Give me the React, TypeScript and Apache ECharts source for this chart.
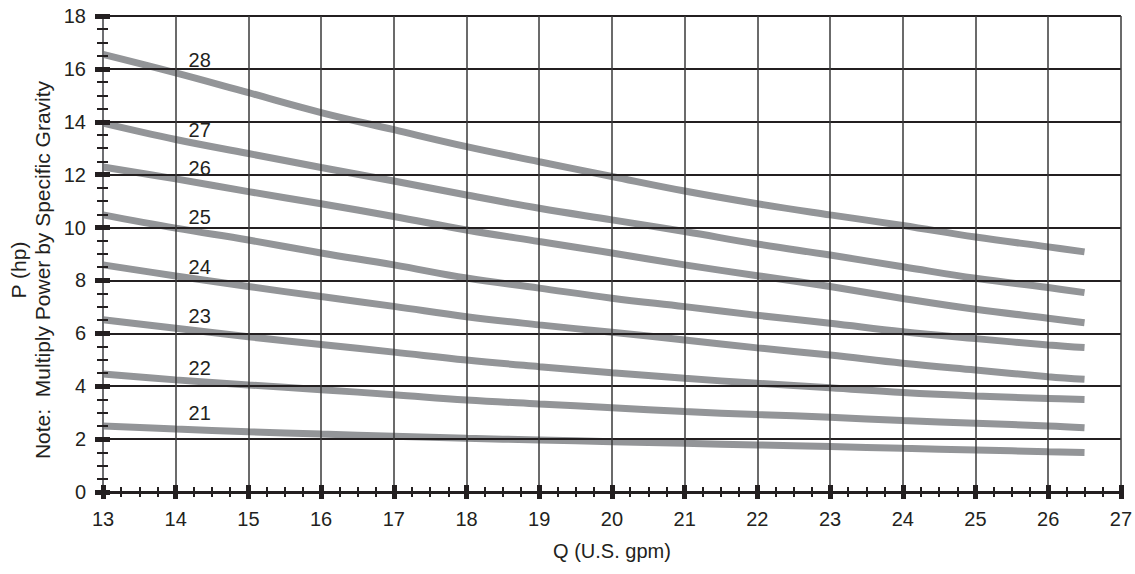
import React, { useEffect, useRef } from "react";
import * as echarts from "echarts";

const Q = [13, 14, 15, 16, 17, 18, 19, 20, 21, 22, 23, 24, 25, 26, 26.5];
const P28 = [16.55, 15.85, 15.1, 14.35, 13.7, 13.06, 12.49, 11.93, 11.38, 10.9, 10.48, 10.08, 9.64, 9.27, 9.08];
const P27 = [13.95, 13.33, 12.8, 12.27, 11.76, 11.23, 10.73, 10.29, 9.85, 9.38, 8.96, 8.52, 8.08, 7.73, 7.54];
const P26 = [12.29, 11.84, 11.36, 10.9, 10.42, 9.91, 9.47, 9.04, 8.59, 8.18, 7.77, 7.32, 6.91, 6.57, 6.4];
const P25 = [10.48, 9.98, 9.53, 9.04, 8.59, 8.09, 7.71, 7.33, 7.01, 6.68, 6.38, 6.06, 5.8, 5.56, 5.46];
const P24 = [8.59, 8.17, 7.77, 7.39, 7.02, 6.63, 6.32, 6.04, 5.75, 5.45, 5.18, 4.87, 4.61, 4.36, 4.26];
const P23 = [6.51, 6.19, 5.87, 5.58, 5.29, 4.99, 4.74, 4.51, 4.3, 4.11, 3.94, 3.76, 3.63, 3.54, 3.5];
const P22 = [4.46, 4.24, 4.05, 3.87, 3.68, 3.48, 3.33, 3.19, 3.04, 2.93, 2.83, 2.7, 2.6, 2.5, 2.43];
const P21 = [2.5, 2.38, 2.28, 2.19, 2.11, 2.03, 1.97, 1.9, 1.84, 1.78, 1.72, 1.65, 1.59, 1.52, 1.49];

const CURVE_NAMES = ["21", "22", "23", "24", "25", "26", "27", "28"];
const CURVES = [P21, P22, P23, P24, P25, P26, P27, P28];
const LABEL_Q = 14.33;
const LABEL_P = [2.98, 4.68, 6.67, 8.52, 10.41, 12.25, 13.68, 16.34];

const X_MIN = 13;
const X_MAX = 27;
const Y_MIN = 0;
const Y_MAX = 18;

const X_NAME = "Q (U.S. gpm)";
const Y_NAME_1 = "P (hp)";
const Y_NAME_2 = "Note:  Multiply Power by Specific Gravity";

const FONT = "'Liberation Sans', Arial, Helvetica, sans-serif";
const INK = "#231f20";

export default function App() {
  const ref = useRef<HTMLDivElement>(null);
  useEffect(() => {
    if (!ref.current) return;
    const chart = echarts.init(ref.current, undefined, { renderer: "svg" });

    const lineSeries = CURVES.map((vals, i) => ({
      name: CURVE_NAMES[i],
      type: "line",
      xAxisIndex: 0,
      yAxisIndex: 0,
      smooth: 0.4,
      symbol: "none",
      silent: true,
      data: Q.map((q, k) => [q, vals[k]]),
      lineStyle: { color: "#939598", width: 7, cap: "butt" },
      z: 3,
    }));

    const labelSeries = {
      type: "scatter",
      xAxisIndex: 0,
      yAxisIndex: 0,
      symbolSize: 0,
      silent: true,
      itemStyle: { opacity: 1 },
      emphasis: { disabled: true },
      data: CURVE_NAMES.map((n, i) => ({ name: n, value: [LABEL_Q, LABEL_P[i]] })),
      label: {
        show: true,
        position: "inside",
        formatter: "{b}",
        color: INK,
        textBorderWidth: 0,
        fontSize: 20,
        fontFamily: FONT,
      },
      z: 5,
    };

    chart.setOption({
      animation: false,
      backgroundColor: "#ffffff",
      grid: { left: 103, right: 7, top: 16, bottom: 82, containLabel: false },
      graphic: [
        {
          type: "text",
          x: 18,
          y: 270,
          rotation: Math.PI / 2,
          style: {
            text: Y_NAME_1,
            fill: INK,
            fontSize: 21,
            fontFamily: FONT,
            align: "center",
            verticalAlign: "middle",
          },
        },
        {
          type: "text",
          x: 42,
          y: 270,
          rotation: Math.PI / 2,
          style: {
            text: Y_NAME_2,
            fill: INK,
            fontSize: 21,
            fontFamily: FONT,
            align: "center",
            verticalAlign: "middle",
          },
        },
      ],
      xAxis: [
        {
          type: "value",
          min: X_MIN,
          max: X_MAX,
          interval: 1,
          position: "bottom",
          name: X_NAME,
          nameLocation: "middle",
          nameGap: 49,
          nameTextStyle: { color: INK, fontSize: 20, fontFamily: FONT },
          axisLine: { show: true, onZero: false, lineStyle: { color: INK, width: 3 } },
          axisTick: { show: true, inside: false, length: 7, lineStyle: { color: INK, width: 5 } },
          minorTick: { show: true, splitNumber: 4, length: 5, lineStyle: { color: INK, width: 2 } },
          axisLabel: { color: INK, fontSize: 20, fontFamily: FONT, margin: 17 },
          splitLine: { show: true, lineStyle: { color: "#3a3a3a", width: 1.5 } },
          z: 4,
        },
        {
          type: "value",
          min: X_MIN,
          max: X_MAX,
          interval: 1,
          position: "bottom",
          axisLine: { show: false, onZero: false },
          axisTick: { show: true, inside: true, length: 7, lineStyle: { color: INK, width: 5 } },
          minorTick: { show: true, splitNumber: 4, length: 5, lineStyle: { color: INK, width: 2 } },
          axisLabel: { show: false },
          splitLine: { show: false },
          z: 4,
        },
      ],
      yAxis: [
        {
          type: "value",
          min: Y_MIN,
          max: Y_MAX,
          interval: 2,
          position: "left",
          axisLine: { show: true, onZero: false, lineStyle: { color: "#6d6e71", width: 2 } },
          axisTick: { show: true, inside: false, length: 8, lineStyle: { color: INK, width: 5 } },
          minorTick: { show: true, splitNumber: 4, length: 6, lineStyle: { color: INK, width: 2 } },
          axisLabel: { color: INK, fontSize: 20, fontFamily: FONT, margin: 17 },
          splitLine: { show: true, lineStyle: { color: INK, width: 2 } },
          z: 4,
        },
        {
          type: "value",
          min: Y_MIN,
          max: Y_MAX,
          interval: 2,
          position: "left",
          offset: 0,
          axisLine: { show: false, onZero: false },
          axisTick: { show: true, inside: true, length: 7, lineStyle: { color: INK, width: 5 } },
          minorTick: { show: true, splitNumber: 4, length: 5, lineStyle: { color: INK, width: 2 } },
          axisLabel: { show: false },
          splitLine: { show: false },
          z: 4,
        },
      ],
      series: [...lineSeries, labelSeries],
    });

    return () => chart.dispose();
  }, []);

  return (
    <div
      ref={ref}
      style={{ position: "fixed", left: 0, top: 0, width: 1135, height: 574, background: "#fff" }}
    />
  );
}
